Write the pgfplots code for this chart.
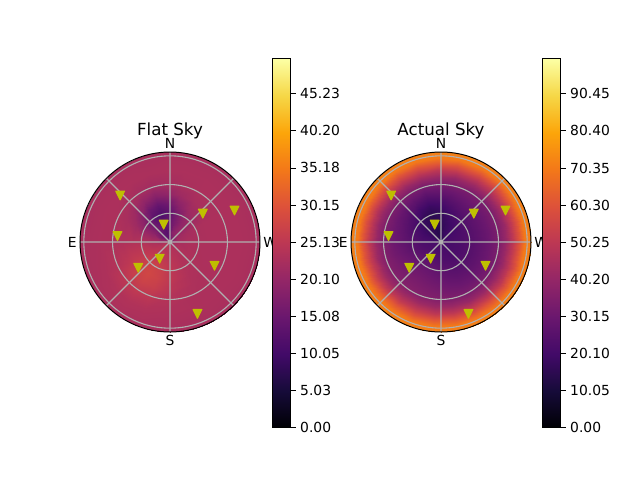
\documentclass[border=0pt]{standalone}
\usepackage{fontspec}
\setmainfont{DejaVu Sans}
\usepackage{pgfplots}
\usepgfplotslibrary{polar}
\pgfplotsset{compat=1.18}
\pgfplotsset{colormap={inferno}{rgb255=(0,0,4) rgb255=(22,11,57) rgb255=(66,10,104) rgb255=(106,23,110) rgb255=(147,38,103) rgb255=(188,55,84) rgb255=(221,81,58) rgb255=(243,120,25) rgb255=(252,165,10) rgb255=(246,215,70) rgb255=(252,255,164)}}
\definecolor{gridc}{RGB}{176,176,176}
\definecolor{markc}{RGB}{191,191,0}
\pgfdeclareplotmark{vtri}{%
  \pgfpathmoveto{\pgfqpoint{0pt}{-\pgfplotmarksize}}%
  \pgfpathlineto{\pgfqpoint{-\pgfplotmarksize}{\pgfplotmarksize}}%
  \pgfpathlineto{\pgfqpoint{\pgfplotmarksize}{\pgfplotmarksize}}%
  \pgfpathclose\pgfusepathqfillstroke}
\pgfplotsset{
  txt/.style={font=\fontsize{10.4}{12}\selectfont},
  heat/.style={width=135pt,height=135pt,scale only axis,anchor=center,ymin=0,ymax=94,hide axis,clip=true,colormap name=inferno},
  gridax/.style={width=135pt,height=135pt,scale only axis,anchor=center,ymin=0,ymax=94,
    xtick={0,45,...,315},xticklabels={W,,N,,E,,S,},ytick={30,60,90},yticklabels={},
    grid=major,major grid style={color=gridc,line width=0.83pt},tick style={draw=none},
    x axis line style={black,line width=0.75pt},y axis line style={draw=none},xticklabel style={txt,inner sep=2.4pt},
    title style={font=\fontsize{12.5}{14}\selectfont,yshift=-7.8pt}},
  cbar/.style={width=13.8pt,height=276.75pt,scale only axis,anchor=south west,xmin=0,xmax=1,xtick=\empty,
    ytick pos=right,yticklabel pos=right,tick align=outside,major tick length=3.65pt,
    tick style={black,line width=0.6pt},axis line style={black,line width=0.6pt},yticklabel style={txt},axis on top,colormap name=inferno},
  mk/.style={only marks,mark=vtri,mark size=3.3pt,mark options={fill=markc,draw=markc,line width=0.8pt,line join=round}}
}
\begin{document}
\begin{tikzpicture}
\path[use as bounding box] (0,0) rectangle (480pt,360pt);
% Flat Sky
\begin{polaraxis}[heat,at={(127.5pt,178.5pt)},point meta min=0,point meta max=49.97]
\addplot[surf,shader=interp,mesh/rows=18,point meta=explicit] coordinates {
(0,0)[21.5] (0,10)[22.5] (0,20)[23] (0,30)[23] (0,40)[23] (0,50)[23] (0,60)[23] (0,75)[23] (0,100)[22.5]
(30,0)[19.5] (30,10)[21.5] (30,20)[22.1] (30,30)[22.7] (30,40)[23] (30,50)[23] (30,60)[23] (30,75)[23] (30,100)[22.5]
(60,0)[17.5] (60,10)[20] (60,20)[19.5] (60,30)[20] (60,40)[21.3] (60,50)[22.5] (60,60)[23] (60,75)[23] (60,100)[22.5]
(78,0)[15.5] (78,10)[19] (78,20)[16.8] (78,30)[16.5] (78,40)[18.8] (78,50)[21.3] (78,60)[22.6] (78,75)[23] (78,100)[22.5]
(93,0)[15] (93,10)[15] (93,20)[14.8] (93,30)[13] (93,40)[15.5] (93,50)[19.6] (93,60)[22] (93,75)[23] (93,100)[22.5]
(108,0)[14] (108,10)[12.8] (108,20)[13.8] (108,30)[11.5] (108,40)[14] (108,50)[18.6] (108,60)[21.7] (108,75)[22.9] (108,100)[22.5]
(123,0)[14] (123,10)[13.3] (123,20)[14.8] (123,30)[13] (123,40)[15.5] (123,50)[19.6] (123,60)[22] (123,75)[23] (123,100)[22.5]
(138,0)[15.5] (138,10)[15] (138,20)[16.8] (138,30)[16.5] (138,40)[18.8] (138,50)[21.3] (138,60)[22.6] (138,75)[23] (138,100)[22.5]
(153,0)[18.5] (153,10)[17.8] (153,20)[19.2] (153,30)[19.8] (153,40)[21.3] (153,50)[22.5] (153,60)[23] (153,75)[23] (153,100)[22.5]
(180,0)[22.5] (180,10)[22.2] (180,20)[22.9] (180,30)[23.7] (180,40)[23.6] (180,50)[23.3] (180,60)[23.1] (180,75)[23] (180,100)[22.5]
(205,0)[24] (205,10)[24] (205,20)[24.9] (205,30)[25.6] (205,40)[25.6] (205,50)[24.9] (205,60)[24] (205,75)[23.2] (205,100)[22.5]
(220,0)[24.5] (220,10)[24.2] (220,20)[25.5] (220,30)[26.8] (220,40)[27.2] (220,50)[26.5] (220,60)[25.1] (220,75)[23.5] (220,100)[22.5]
(235,0)[24.5] (235,10)[24.2] (235,20)[25.7] (235,30)[27.3] (235,40)[28] (235,50)[27.3] (235,60)[25.7] (235,75)[23.7] (235,100)[22.5]
(250,0)[24.5] (250,10)[24.2] (250,20)[25.5] (250,30)[26.8] (250,40)[27.2] (250,50)[26.5] (250,60)[25.1] (250,75)[23.5] (250,100)[22.5]
(265,0)[24] (265,10)[24] (265,20)[24.9] (265,30)[25.6] (265,40)[25.6] (265,50)[24.9] (265,60)[24] (265,75)[23.2] (265,100)[22.5]
(300,0)[23] (300,10)[23.5] (300,20)[23.6] (300,30)[23.5] (300,40)[23.3] (300,50)[23.1] (300,60)[23] (300,75)[23] (300,100)[22.5]
(330,0)[22.5] (330,10)[23.3] (330,20)[23.2] (330,30)[23.1] (330,40)[23] (330,50)[23] (330,60)[23] (330,75)[23] (330,100)[22.5]
(360,0)[21.5] (360,10)[22.5] (360,20)[23] (360,30)[23] (360,40)[23] (360,50)[23] (360,60)[23] (360,75)[23] (360,100)[22.5]
};
\end{polaraxis}
\begin{polaraxis}[gridax,at={(127.5pt,178.5pt)},title={Flat Sky}]
\addplot[mk] coordinates {(137,71.2) (40.9,45.3) (26,75) (173.5,55.2) (110,19.3) (331.9,52.7) (238.2,20.5) (219,42.7) (290.9,80.4)};
\end{polaraxis}
\begin{axis}[cbar,at={(204.2pt,39.2pt)},ymin=0,ymax=49.97,point meta min=0,point meta max=49.97,
  ytick={0,5.03,10.05,15.08,20.10,25.13,30.15,35.18,40.20,45.23},
  yticklabels={0.00,5.03,10.05,15.08,20.10,25.13,30.15,35.18,40.20,45.23}]
\addplot[surf,shader=interp,mesh/rows=2,point meta=explicit] coordinates {(0,0)[0] (1,0)[0] (0,49.97)[49.97] (1,49.97)[49.97]};
\end{axis}
% Actual Sky
\begin{polaraxis}[heat,at={(330.75pt,178.5pt)},point meta min=0,point meta max=99.94]
\addplot[surf,shader=interp,mesh/rows=25,point meta=explicit] coordinates {
(0,0)[21] (0,10)[21.5] (0,20)[22.5] (0,30)[24.5] (0,40)[27] (0,50)[30] (0,60)[34] (0,68)[41] (0,75)[50] (0,82)[61] (0,88)[70] (0,100)[74]
(15,0)[21] (15,10)[21.5] (15,20)[22.5] (15,30)[24.5] (15,40)[27] (15,50)[30] (15,60)[34] (15,68)[41] (15,75)[50] (15,82)[61] (15,88)[70] (15,100)[74]
(30,0)[20] (30,10)[21] (30,20)[22] (30,30)[24.2] (30,40)[27] (30,50)[30] (30,60)[34] (30,68)[41] (30,75)[50] (30,82)[61] (30,88)[70] (30,100)[74]
(45,0)[19] (45,10)[20] (45,20)[21] (45,30)[23.3] (45,40)[26.5] (45,50)[30] (45,60)[34] (45,68)[41] (45,75)[50] (45,82)[61] (45,88)[70] (45,100)[74]
(60,0)[18] (60,10)[19.3] (60,20)[19.6] (60,30)[22] (60,40)[25.6] (60,50)[29.5] (60,60)[34] (60,68)[41] (60,75)[50] (60,82)[61] (60,88)[70] (60,100)[74]
(78,0)[16.2] (78,10)[17.6] (78,20)[17.8] (78,30)[19.1] (78,40)[23.2] (78,50)[28.2] (78,60)[33.6] (78,68)[41] (78,75)[50] (78,82)[61] (78,88)[70] (78,100)[74]
(93,0)[15.3] (93,10)[15.5] (93,20)[16.2] (93,30)[16.2] (93,40)[20.2] (93,50)[26.7] (93,60)[33] (93,68)[41] (93,75)[50] (93,82)[61] (93,88)[70] (93,100)[74]
(108,0)[15] (108,10)[14] (108,20)[15.5] (108,30)[14.7] (108,40)[18.6] (108,50)[25.5] (108,60)[32.6] (108,68)[41] (108,75)[50] (108,82)[61] (108,88)[70] (108,100)[74]
(123,0)[15.3] (123,10)[15.5] (123,20)[16.2] (123,30)[16.2] (123,40)[20.2] (123,50)[26.7] (123,60)[33] (123,68)[41] (123,75)[50] (123,82)[61] (123,88)[70] (123,100)[74]
(138,0)[16.2] (138,10)[17.6] (138,20)[17.8] (138,30)[19.1] (138,40)[23.2] (138,50)[28.2] (138,60)[33.6] (138,68)[41] (138,75)[50] (138,82)[61] (138,88)[70] (138,100)[74]
(153,0)[18] (153,10)[19.3] (153,20)[19.6] (153,30)[22] (153,40)[25.6] (153,50)[29.5] (153,60)[34] (153,68)[41] (153,75)[50] (153,82)[61] (153,88)[70] (153,100)[74]
(165,0)[20] (165,10)[20.5] (165,20)[21] (165,30)[23.5] (165,40)[26.8] (165,50)[30] (165,60)[34] (165,68)[41] (165,75)[50] (165,82)[61] (165,88)[70] (165,100)[74]
(180,0)[21.5] (180,10)[21.5] (180,20)[22.5] (180,30)[25] (180,40)[27.8] (180,50)[30.5] (180,60)[34.3] (180,68)[41] (180,75)[50] (180,82)[61] (180,88)[70] (180,100)[74]
(195,0)[21.5] (195,10)[22] (195,20)[23.5] (195,30)[26] (195,40)[29] (195,50)[31.5] (195,60)[35] (195,68)[41.5] (195,75)[50.5] (195,82)[61] (195,88)[70] (195,100)[74]
(210,0)[22] (210,10)[22.5] (210,20)[24.5] (210,30)[27.8] (210,40)[30.5] (210,50)[33] (210,60)[35.7] (210,68)[42.2] (210,75)[50.8] (210,82)[61.3] (210,88)[70] (210,100)[74]
(220,0)[22] (220,10)[22.5] (220,20)[25] (220,30)[28.5] (220,40)[31] (220,50)[33.5] (220,60)[36] (220,68)[42.5] (220,75)[51] (220,82)[61.5] (220,88)[70] (220,100)[74]
(235,0)[22] (235,10)[22.5] (235,20)[25.2] (235,30)[29] (235,40)[31.5] (235,50)[34] (235,60)[36.5] (235,68)[43] (235,75)[51.5] (235,82)[62] (235,88)[70] (235,100)[74]
(250,0)[22] (250,10)[22.5] (250,20)[25] (250,30)[28.5] (250,40)[31] (250,50)[33.5] (250,60)[36] (250,68)[42.5] (250,75)[51] (250,82)[61.5] (250,88)[70] (250,100)[74]
(265,0)[21.8] (265,10)[22.3] (265,20)[24.2] (265,30)[27.5] (265,40)[30] (265,50)[32.8] (265,60)[35.5] (265,68)[42] (265,75)[50.8] (265,82)[61.3] (265,88)[70] (265,100)[74]
(280,0)[21.6] (280,10)[22.1] (280,20)[23.5] (280,30)[26] (280,40)[28.5] (280,50)[31.3] (280,60)[35] (280,68)[41.5] (280,75)[50.5] (280,82)[61] (280,88)[70] (280,100)[74]
(295,0)[21.5] (295,10)[22] (295,20)[23] (295,30)[25] (295,40)[27.5] (295,50)[30.2] (295,60)[34] (295,68)[41] (295,75)[50] (295,82)[61] (295,88)[70] (295,100)[74]
(310,0)[21] (310,10)[21.5] (310,20)[22.5] (310,30)[24.5] (310,40)[27] (310,50)[30] (310,60)[34] (310,68)[41] (310,75)[50] (310,82)[61] (310,88)[70] (310,100)[74]
(325,0)[21] (325,10)[21.5] (325,20)[22.5] (325,30)[24.5] (325,40)[27] (325,50)[30] (325,60)[34] (325,68)[41] (325,75)[50] (325,82)[61] (325,88)[70] (325,100)[74]
(340,0)[21] (340,10)[21.5] (340,20)[22.5] (340,30)[24.5] (340,40)[27] (340,50)[30] (340,60)[34] (340,68)[41] (340,75)[50] (340,82)[61] (340,88)[70] (340,100)[74]
(360,0)[21] (360,10)[21.5] (360,20)[22.5] (360,30)[24.5] (360,40)[27] (360,50)[30] (360,60)[34] (360,68)[41] (360,75)[50] (360,82)[61] (360,88)[70] (360,100)[74]
};
\end{polaraxis}
\begin{polaraxis}[gridax,at={(330.75pt,178.5pt)},title={Actual Sky}]
\addplot[mk] coordinates {(137,71.2) (40.9,45.3) (26,75) (173.5,55.2) (110,19.3) (331.9,52.7) (238.2,20.5) (219,42.7) (290.9,80.4)};
\end{polaraxis}
\begin{axis}[cbar,at={(406.7pt,39.2pt)},ymin=0,ymax=99.94,point meta min=0,point meta max=99.94,
  ytick={0,10.05,20.10,30.15,40.20,50.25,60.30,70.35,80.40,90.45},
  yticklabels={0.00,10.05,20.10,30.15,40.20,50.25,60.30,70.35,80.40,90.45}]
\addplot[surf,shader=interp,mesh/rows=2,point meta=explicit] coordinates {(0,0)[0] (1,0)[0] (0,99.94)[99.94] (1,99.94)[99.94]};
\end{axis}
\end{tikzpicture}
\end{document}
